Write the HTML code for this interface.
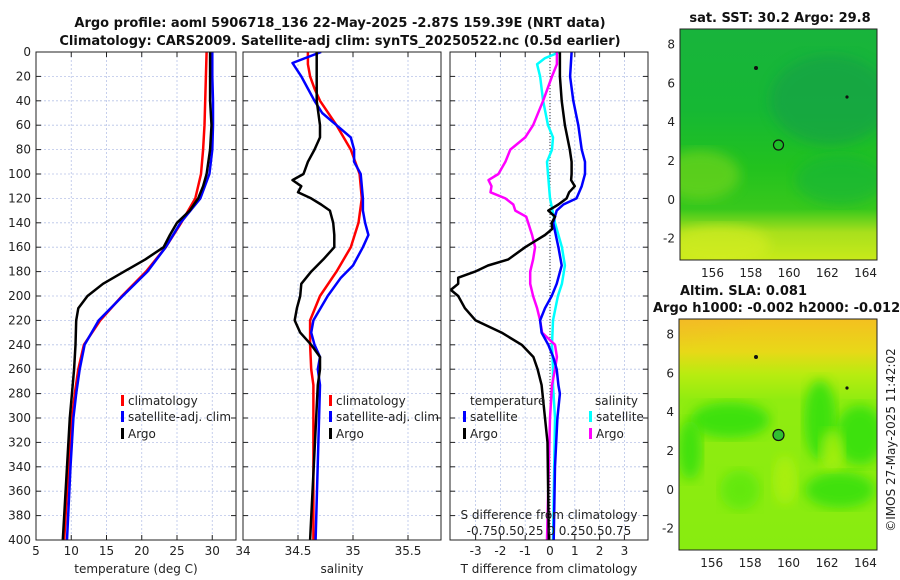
<!DOCTYPE html>
<html><head><meta charset="utf-8">
<style>
html,body{margin:0;padding:0;background:#fff;}
svg{display:block;font-family:"DejaVu Sans","Liberation Sans",sans-serif;}
.t{font-size:12px;fill:#222;}
.b{font-size:13px;font-weight:bold;fill:#111;}
</style></head>
<body>
<svg id="fig" width="900" height="580" viewBox="0 0 900 580">
<defs>
<linearGradient id="sstg" x1="0" y1="0" x2="0" y2="1">
<stop offset="0" stop-color="#18b43c"/><stop offset="0.35" stop-color="#16b834"/>
<stop offset="0.6" stop-color="#22c21e"/><stop offset="0.78" stop-color="#38c81c"/>
<stop offset="0.88" stop-color="#a8e01c"/><stop offset="1" stop-color="#c8ea1a"/>
</linearGradient>
<linearGradient id="slag" x1="0" y1="0" x2="0" y2="1">
<stop offset="0" stop-color="#f4c020"/><stop offset="0.14" stop-color="#e8d818"/>
<stop offset="0.24" stop-color="#b8ec10"/><stop offset="0.35" stop-color="#90ec10"/>
<stop offset="1" stop-color="#88ec10"/>
</linearGradient>
<radialGradient id="orng" cx="0" cy="0" r="1"><stop offset="0" stop-color="#f0a838"/><stop offset="1" stop-color="#f0a838" stop-opacity="0"/></radialGradient>
<filter id="bl"><feGaussianBlur stdDeviation="6"/></filter>
<clipPath id="c1"><rect x="680" y="29" width="197" height="231"/></clipPath>
<clipPath id="c2"><rect x="679" y="319" width="198" height="231"/></clipPath>
<clipPath id="p1"><rect x="36" y="52" width="200" height="488"/></clipPath>
<clipPath id="p2"><rect x="243" y="52" width="198" height="488"/></clipPath>
<clipPath id="p3"><rect x="450" y="52" width="198" height="488"/></clipPath>
</defs>

<text class="b" x="340" y="27" text-anchor="middle">Argo profile: aoml 5906718_136 22-May-2025 -2.87S 159.39E (NRT data)</text>
<text class="b" x="340" y="45" text-anchor="middle">Climatology: CARS2009. Satellite-adj clim: synTS_20250522.nc (0.5d earlier)</text>

<g id="axes"></g>

<g>
<text class="b" x="780" y="22" text-anchor="middle">sat. SST: 30.2 Argo: 29.8</text>
<g clip-path="url(#c1)">
<rect x="680" y="29" width="197" height="231" fill="url(#sstg)"/>
<ellipse cx="830" cy="100" rx="60" ry="45" fill="#129e4a" opacity="0.6" filter="url(#bl)"/>
<ellipse cx="700" cy="175" rx="40" ry="25" fill="#70d41a" opacity="0.7" filter="url(#bl)"/>
<ellipse cx="840" cy="180" rx="45" ry="25" fill="#12b43a" opacity="0.6" filter="url(#bl)"/>
<ellipse cx="720" cy="245" rx="50" ry="20" fill="#d8ee20" opacity="0.6" filter="url(#bl)"/>
</g>
<rect x="680" y="29" width="197" height="231" fill="none" stroke="#222" stroke-width="1"/>
<circle cx="778.5" cy="145" r="5" fill="none" stroke="#111" stroke-width="1.2"/>
<circle cx="756" cy="68" r="2" fill="#111"/>
<circle cx="847" cy="97" r="1.6" fill="#111"/>
</g>

<g>
<text class="b" x="680" y="295">Altim. SLA: 0.081</text>
<text class="b" x="653" y="312">Argo h1000: -0.002 h2000: -0.012</text>
<g clip-path="url(#c2)">
<rect x="679" y="319" width="198" height="231" fill="url(#slag)"/>
<ellipse cx="679" cy="319" rx="120" ry="45" fill="url(#orng)" opacity="0.8"/>
<ellipse cx="730" cy="420" rx="40" ry="18" fill="#34e010" opacity="0.9" filter="url(#bl)"/>
<ellipse cx="820" cy="420" rx="16" ry="40" fill="#34e010" opacity="0.9" filter="url(#bl)"/>
<ellipse cx="860" cy="435" rx="25" ry="30" fill="#34e010" opacity="0.9" filter="url(#bl)"/>
<ellipse cx="840" cy="490" rx="35" ry="18" fill="#38e010" opacity="0.9" filter="url(#bl)"/>
<ellipse cx="690" cy="450" rx="12" ry="30" fill="#38e010" opacity="0.9" filter="url(#bl)"/>
<ellipse cx="740" cy="490" rx="20" ry="20" fill="#5ae810" opacity="0.8" filter="url(#bl)"/>
<ellipse cx="785" cy="480" rx="12" ry="25" fill="#b0f010" opacity="0.8" filter="url(#bl)"/>
<ellipse cx="832" cy="450" rx="12" ry="20" fill="#b0f010" opacity="0.7" filter="url(#bl)"/>
</g>
<rect x="679" y="319" width="198" height="231" fill="none" stroke="#222" stroke-width="1"/>
<circle cx="778.5" cy="435" r="5.5" fill="#30c030" stroke="#111" stroke-width="1.2"/>
<circle cx="756" cy="357" r="2" fill="#111"/>
<circle cx="847" cy="388" r="1.6" fill="#111"/>
</g>
<text class="t" transform="translate(895,440) rotate(-90)" text-anchor="middle">©IMOS 27-May-2025 11:42:02</text>
</svg>

<script>
var depthTicks = [0,20,40,60,80,100,120,140,160,180,200,220,240,260,280,300,320,340,360,380,400];
var tempTicks = [5,10,15,20,25,30];
var salTicks = [34,34.5,35,35.5];
var tdiffTicks = [-3,-2,-1,0,1,2,3];

var climTempDepth = [0,20,40,60,80,100,120,140,160,180,200,220,240,260,280,300,340,400];
var climTemp = [29.2,29.1,29.0,28.9,28.7,28.4,27.6,25.6,23.4,20.6,17.2,14.1,11.8,11.0,10.5,10.1,9.6,9.0];
var satTemp = [30.0,30.0,30.1,30.1,30.0,29.6,28.3,25.5,23.4,20.8,17.3,13.9,11.9,11.2,10.7,10.3,9.9,9.4];
var argoTempDepth = [0,20,40,60,80,100,110,120,130,140,150,160,170,180,190,200,210,220,240,260,300,340,400];
var argoTemp = [29.7,29.7,29.7,29.9,29.7,29.2,28.7,28.0,26.8,25.0,24.0,23.1,20.5,17.5,14.5,12.3,11.0,10.7,10.6,10.4,9.8,9.4,8.8];

var climSalDepth = [0,10,20,30,40,60,80,100,120,140,160,180,200,220,240,260,273,400];
var climSal = [34.59,34.59,34.61,34.65,34.70,34.85,34.98,35.06,35.08,35.05,34.98,34.85,34.70,34.61,34.61,34.62,34.64,34.64];
var satSalDepth = [0,9,20,30,40,50,60,70,80,90,100,120,130,140,150,160,175,185,200,220,230,240,250,260,273,400];
var satSal = [34.71,34.45,34.53,34.59,34.65,34.72,34.85,34.98,35.01,35.01,35.07,35.09,35.09,35.11,35.14,35.09,35.00,34.89,34.77,34.64,34.62,34.65,34.70,34.68,34.70,34.66];
var argoSalDepth = [0,40,60,70,80,90,100,105,110,115,120,125,130,140,150,160,170,180,190,200,210,220,230,240,250,260,273,400];
var argoSal = [34.67,34.67,34.70,34.70,34.65,34.59,34.55,34.45,34.53,34.50,34.62,34.71,34.79,34.82,34.83,34.83,34.73,34.62,34.53,34.52,34.49,34.47,34.52,34.62,34.70,34.70,34.68,34.61];

var argoTdiffDepth = [0,20,40,60,80,90,100,105,110,115,120,125,130,135,140,145,150,155,160,170,175,180,185,190,195,200,210,220,230,240,250,260,273,300,320,400];
var argoTdiff = [0.40,0.40,0.47,0.60,0.80,0.87,0.87,0.85,1.0,0.77,0.67,0.34,-0.07,0.2,0.07,0.09,-0.2,-0.6,-1.0,-1.68,-2.5,-3.02,-3.7,-3.7,-4.0,-3.7,-3.43,-3.0,-1.95,-1.14,-0.67,-0.5,-0.34,-0.2,-0.1,-0.05];
var satTdiffDepth = [0,20,40,60,80,90,100,110,120,125,130,140,160,175,190,200,210,220,230,240,250,260,273,280,300,340,400];
var satTdiff = [0.87,0.81,0.94,1.14,1.28,1.41,1.41,1.28,1.07,0.54,0.27,0.13,0.34,0.47,0.27,0.07,-0.2,-0.4,-0.34,-0.07,0.13,0.27,0.34,0.4,0.3,0.2,0.15];
var satSdiffDepth = [0,5,10,20,40,60,70,80,90,100,120,140,160,175,190,200,220,240,260,273,300,400];
var satSdiff = [0.10,-0.05,-0.13,-0.10,-0.07,-0.02,0.03,0.02,-0.03,-0.02,0.0,0.05,0.12,0.15,0.12,0.08,0.03,0.02,0.03,0.03,0.05,0.03];
var argoSdiffDepth = [0,10,20,40,60,70,80,90,100,105,110,115,120,125,130,135,140,150,160,170,180,190,200,210,220,230,240,250,260,273,300,400];
var argoSdiff = [0.07,0.07,0.02,-0.07,-0.17,-0.25,-0.40,-0.45,-0.52,-0.62,-0.59,-0.60,-0.45,-0.37,-0.35,-0.24,-0.22,-0.18,-0.15,-0.17,-0.20,-0.20,-0.17,-0.13,-0.10,-0.08,0.05,0.07,0.05,0.02,0.0,-0.03];

var mapXTicks = [156,158,160,162,164];
var mapYTicks = [-2,0,2,4,6,8];

var NS = 'http://www.w3.org/2000/svg';
var root = document.getElementById('axes');
function el(tag, attrs, parent){ var e=document.createElementNS(NS,tag); for(var k in attrs) e.setAttribute(k,attrs[k]); (parent||root).appendChild(e); return e; }
var Y0=52, Y1=540;
function yD(d){ return Y0 + d*(Y1-Y0)/400; }
function xT(v){ return 36 + (v-5)*7.05; }
function xS(v){ return 243 + (v-34)*110; }
function xDT(v){ return 550 + v*24.8; }
function xDS(v){ return 550 + v*4*24.8; }

var panels = [
 {x:36,w:200,ticks:tempTicks,fx:xT,label:'temperature (deg C)',name:'temperature-panel'},
 {x:243,w:198,ticks:salTicks,fx:xS,label:'salinity',name:'salinity-panel'},
 {x:450,w:198,ticks:tdiffTicks,fx:xDT,label:'T difference from climatology',name:'difference-panel'}
];
panels.forEach(function(p){
  var g = el('g',{});
  
  
  depthTicks.forEach(function(d){
    if(d>0 && d<400){
      var gl = el('line',{x1:p.x,x2:p.x+p.w,y1:yD(d),y2:yD(d),stroke:'#b8c4e8','stroke-width':0.8,'stroke-dasharray':'2,2'},g);
      
      
    }
    el('line',{x1:p.x,x2:p.x+5,y1:yD(d),y2:yD(d),stroke:'#222'},g);
    el('line',{x1:p.x+p.w-5,x2:p.x+p.w,y1:yD(d),y2:yD(d),stroke:'#222'},g);
  });
  p.ticks.forEach(function(v){
    var x=p.fx(v);
    if(x>p.x+1 && x<p.x+p.w-1){
      var vl = el('line',{x1:x,x2:x,y1:Y0,y2:Y1,stroke:'#b8c4e8','stroke-width':0.8,'stroke-dasharray':'2,2'},g);
      
      
    }
    el('line',{x1:x,x2:x,y1:Y1,y2:Y1-5,stroke:'#222'},g);
    el('line',{x1:x,x2:x,y1:Y0,y2:Y0+5,stroke:'#222'},g);
    var t = el('text',{x:x,y:555,'text-anchor':'middle','class':'t'},g);
    t.textContent = String(v);
    
    
  });
  var lab = el('text',{x:p.x+p.w/2,y:573,'text-anchor':'middle','class':'t'},g);
  lab.textContent = p.label;
  
  
});
depthTicks.forEach(function(d){
  var t = el('text',{x:31,y:yD(d)+4,'text-anchor':'end','class':'t'});
  t.textContent = String(d);
  
  
});
var zl = el('line',{x1:xDT(0),x2:xDT(0),y1:Y0,y2:Y1,stroke:'#333','stroke-width':1,'stroke-dasharray':'1,2'});



function series(depths, vals, fx, color, clip, name){
  var pts = depths.map(function(d,i){ return fx(vals[i]).toFixed(1)+','+yD(d).toFixed(1); }).join(' ');
  var pl = el('polyline',{points:pts,fill:'none',stroke:color,'stroke-width':2.5,'stroke-linejoin':'round','clip-path':'url(#'+clip+')'});
  
  
}
series(climTempDepth, climTemp, xT, '#ff0000','p1','climatology-temperature-line');
series(climTempDepth, satTemp, xT, '#0000ff','p1','satellite-temperature-line');
series(argoTempDepth, argoTemp, xT, '#000000','p1','argo-temperature-line');
series(climSalDepth, climSal, xS, '#ff0000','p2','climatology-salinity-line');
series(satSalDepth, satSal, xS, '#0000ff','p2','satellite-salinity-line');
series(argoSalDepth, argoSal, xS, '#000000','p2','argo-salinity-line');
series(satSdiffDepth, satSdiff, xDS, '#00ffff','p3','satellite-salinity-diff-line');
series(argoSdiffDepth, argoSdiff, xDS, '#ff00ff','p3','argo-salinity-diff-line');
series(satTdiffDepth, satTdiff, xDT, '#0000ff','p3','satellite-temperature-diff-line');
series(argoTdiffDepth, argoTdiff, xDT, '#000000','p3','argo-temperature-diff-line');

panels.forEach(function(p){
  var r = el('rect',{x:p.x,y:Y0,width:p.w,height:Y1-Y0,fill:'none',stroke:'#222','stroke-width':1});
  
  
});

function legendItem(x,y,color,label){
  var g = el('g',{});
  
  
  el('rect',{x:x,y:y-10,width:3,height:11,fill:color},g);
  var t = el('text',{x:x+7,y:y,'class':'t'},g);
  t.textContent = label;
}
legendItem(121,405,'#ff0000','climatology');
legendItem(121,421,'#0000ff','satellite-adj. clim');
legendItem(121,438,'#000000','Argo');
legendItem(329,405,'#ff0000','climatology');
legendItem(329,421,'#0000ff','satellite-adj. clim');
legendItem(329,438,'#000000','Argo');
var th = el('text',{x:470,y:405,'class':'t'}); th.textContent='temperature';


var sh = el('text',{x:595,y:405,'class':'t'}); sh.textContent='salinity';


legendItem(463,421,'#0000ff','satellite');
legendItem(463,438,'#000000','Argo');
legendItem(589,421,'#00ffff','satellite');
legendItem(589,438,'#ff00ff','Argo');
var s1 = el('text',{x:549,y:519,'text-anchor':'middle','class':'t'}); s1.textContent='S difference from climatology';


var s2 = el('text',{x:549,y:535,'text-anchor':'middle','class':'t'}); s2.textContent='-0.750.50.25 0 0.250.50.75';



function mapAxes(x0,x1,y0,y1,lonL,lonR,latB,latT,labY){
  mapXTicks.forEach(function(v){
    var x = x0 + (v-lonL)*(x1-x0)/(lonR-lonL);
    el('line',{x1:x,x2:x,y1:y1,y2:y1-4,stroke:'#222'});
    el('line',{x1:x,x2:x,y1:y0,y2:y0+4,stroke:'#222'});
    var t = el('text',{x:x,y:labY,'text-anchor':'middle','class':'t'});
    t.textContent = String(v);
    
    
  });
  mapYTicks.forEach(function(v){
    var y = y1 - (v-latB)*(y1-y0)/(latT-latB);
    el('line',{x1:x0,x2:x0+4,y1:y,y2:y,stroke:'#222'});
    el('line',{x1:x1-4,x2:x1,y1:y,y2:y,stroke:'#222'});
    var t = el('text',{x:x0-5,y:y+4,'text-anchor':'end','class':'t'});
    t.textContent = String(v);
    
    
  });
}
mapAxes(680,877,29,260,154.3,164.6,-3.1,8.8,277);
mapAxes(679,877,319,550,154.3,164.6,-3.1,8.8,567);
</script>
</body></html>
